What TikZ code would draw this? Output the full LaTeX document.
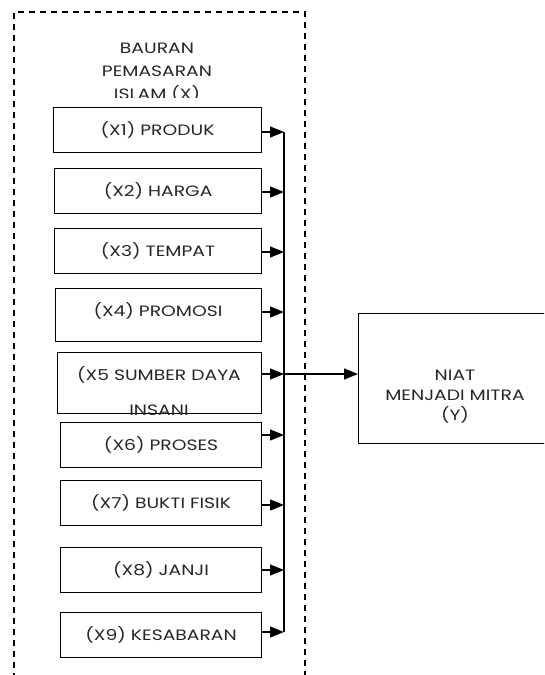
\documentclass[tikz,border=0pt]{standalone}
\usepackage{fontspec}
\setmainfont{Poppins}[FakeStretch=1.25]
\usetikzlibrary{arrows.meta}
\definecolor{txt}{HTML}{262626}
\begin{document}
\begin{tikzpicture}[x=1pt,y=-1pt,
  box/.style={draw, line width=1.2pt, anchor=north west, inner sep=0pt,
    text=txt, font=\fontsize{15}{17}\selectfont},
  lbl/.style={inner sep=0pt, text=txt, font=\fontsize{15}{17}\selectfont},
  arr/.style={line width=1.2pt, -{Triangle[length=14pt,width=11pt]}},
  dashbox/.style={line width=1.2pt, dash pattern=on 6pt off 5pt}]
\useasboundingbox (0,0) rectangle (544,675);
\clip (0,0) rectangle (544,675);

% dashed frame
\coordinate (dtl) at (14,12);
\coordinate (dtr) at (305,12);
\coordinate (dbl) at (14,690);
\coordinate (dbr) at (305,690);
\draw[dashbox] (dbl) -- (dtl) -- (dtr) -- (dbr);

% title (clipped)
\begin{scope}
  \clip (20,20) rectangle (300,97);
  \node[lbl] (t1) at (157,48) {BAURAN};
  \node[lbl] (t2) at (157,71) {PEMASARAN};
  \node[lbl] (t3) at (157,94) {ISLAM (X)};
\end{scope}

% boxes
\node[box, minimum width=208pt, minimum height=45pt] (x1) at (53,107) {(X1) PRODUK};
\node[box, minimum width=207pt, minimum height=45pt] (x2) at (54,168) {(X2) HARGA};
\node[box, minimum width=207pt, minimum height=45pt] (x3) at (54,228) {(X3) TEMPAT};
\node[box, minimum width=206pt, minimum height=53pt] (x4) at (55,288) {};
\node[lbl] (x4t) at (158,311) {(X4) PROMOSI};
\node[box, minimum width=204pt, minimum height=61pt] (x5) at (57,352) {};
\begin{scope}
  \clip (x5.north west) rectangle (x5.south east);
  \node[lbl] (x5a) at (159,375) {(X5 SUMBER DAYA};
  \node[lbl] (x5b) at (159,410) {INSANI};
\end{scope}
\node[box, minimum width=201pt, minimum height=45pt] (x6) at (60,422) {(X6) PROSES};
\node[box, minimum width=201pt, minimum height=45pt] (x7) at (60,480) {(X7) BUKTI FISIK};
\node[box, minimum width=201pt, minimum height=45pt] (x8) at (60,547) {(X8) JANJI};
\node[box, minimum width=201pt, minimum height=45pt] (x9) at (60,612) {(X9) KESABARAN};

% target box
\node[box, minimum width=220pt, minimum height=130pt] (y) at (358,313) {};
\node[lbl, align=center, font=\fontsize{15}{20}\selectfont] (yt) at (455,397) {NIAT\\MENJADI MITRA\\(Y)};

% bus points
\coordinate (b1) at (284,132);
\coordinate (b2) at (284,192);
\coordinate (b3) at (284,252);
\coordinate (b4) at (284,312);
\coordinate (b5) at (284,374);
\coordinate (b6) at (284,435);
\coordinate (b7) at (284,505);
\coordinate (b8) at (284,570);
\coordinate (b9) at (284,632);

\foreach \i in {1,...,9} {
  \draw[arr] (x\i.east |- b\i) -- (b\i);
}
\draw[line width=1.5pt] (b1) -- (b9);
\draw[arr] (b5) -- (y.west |- b5);
\end{tikzpicture}
\end{document}
